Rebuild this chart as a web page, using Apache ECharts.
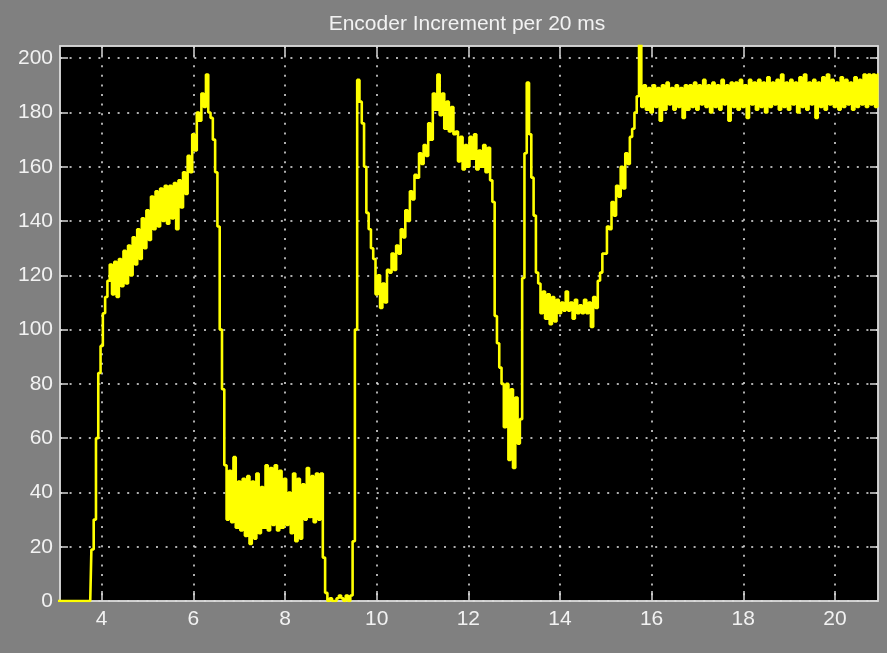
<!DOCTYPE html>
<html><head><meta charset="utf-8">
<script src="https://cdn.jsdelivr.net/npm/echarts@6/dist/echarts.min.js"></script>
<style>html,body{margin:0;padding:0;background:#808080}#c{width:887px;height:653px}</style>
</head><body><div id="c"></div>
<script>
const titleText = 'Encoder Increment per 20 ms';
const xTickValues = [4, 6, 8, 10, 12, 14, 16, 18, 20];
const yTickValues = [0, 20, 40, 60, 80, 100, 120, 140, 160, 180, 200];
const xRange = [3.09, 20.94];
const yRange = [0, 204.5];
// samples every 0.05 s starting at t = 3.00 s (rows of 10 = 0.5 s)
const timeStart = 3.00;
const samplePeriod = 0.05;
const encoderIncrement = [
  0, 0, 0, 0, 0, 0, 0, 0, 0, 0,
  0, 0, 0, 0, 0, 0, 19, 30, 60, 84,
  94, 106, 112, 118, 124, 113, 125, 112, 126, 116,
  129, 117, 131, 120, 134, 124, 137, 126, 141, 130,
  144, 133, 149, 137, 151, 138, 152, 140, 153, 139,
  153, 141, 154, 137, 155, 145, 158, 150, 164, 158,
  172, 166, 180, 177, 187, 182, 194, 180, 178, 170,
  158, 138, 100, 78, 50, 30, 48, 29, 53, 27,
  44, 26, 45, 24, 46, 21, 44, 23, 47, 25,
  42, 27, 50, 26, 49, 28, 50, 26, 48, 27,
  45, 28, 40, 25, 47, 22, 45, 23, 43, 30,
  49, 31, 46, 29, 47, 30, 47, 16, 3, 0,
  1, 0, 0, 1, 2, 1, 0, 2, 0, 2,
  22, 100, 192, 184, 176, 160, 143, 137, 130, 126,
  113, 120, 108, 117, 110, 122, 121, 128, 122, 131,
  128, 137, 134, 144, 140, 151, 148, 157, 156, 165,
  161, 168, 164, 176, 170, 187, 181, 194, 179, 187,
  174, 184, 173, 182, 172, 173, 162, 171, 159, 168,
  160, 171, 163, 172, 159, 166, 160, 168, 158, 167,
  155, 147, 105, 95, 86, 80, 64, 80, 52, 78,
  49, 75, 58, 67, 119, 165, 191, 172, 156, 142,
  121, 117, 106, 114, 104, 113, 102, 112, 103, 111,
  106, 110, 107, 114, 107, 110, 104, 111, 106, 109,
  106, 111, 106, 110, 101, 112, 108, 118, 121, 128,
  128, 138, 137, 147, 142, 153, 149, 160, 152, 165,
  161, 171, 174, 180, 186, 206, 182, 190, 181, 189,
  180, 190, 182, 189, 177, 190, 181, 191, 183, 189,
  181, 190, 182, 189, 178, 190, 181, 190, 182, 191,
  181, 190, 183, 192, 182, 190, 180, 191, 182, 190,
  181, 192, 183, 190, 177, 191, 182, 191, 181, 192,
  182, 190, 178, 192, 183, 191, 181, 192, 182, 191,
  180, 193, 182, 191, 183, 192, 181, 194, 182, 191,
  181, 192, 183, 191, 180, 193, 182, 194, 181, 191,
  183, 192, 178, 191, 182, 193, 181, 194, 183, 192,
  182, 191, 181, 193, 182, 192, 183, 191, 181, 193,
  182, 192, 183, 194, 182, 194, 183, 194, 182, 194
];

const seriesData = encoderIncrement.map((v, i) => [+(timeStart + i * samplePeriod).toFixed(2), v]);

const axisColor = '#d8d8d8';
const labelColor = '#f2f2f2';
const gridDots = { show: true, lineStyle: { color: '#e8e8e8', width: 1.5, type: [2, 7.6] } };
const fontFamily = '"Liberation Sans", Arial, sans-serif';

const chart = echarts.init(document.getElementById('c'), null, { renderer: 'canvas' });
chart.setOption({
  backgroundColor: '#808080',
  animation: false,
  title: {
    text: titleText, left: 462, top: 9, textAlign: 'center',
    textStyle: { color: '#f2f2f2', fontSize: 21, fontWeight: 'normal', fontFamily }
  },
  grid: {
    left: 60, right: 9, top: 46, bottom: 52, show: true,
    backgroundColor: '#000000', borderColor: axisColor, borderWidth: 1.5
  },
  xAxis: [{
    type: 'value', min: xRange[0], max: xRange[1], position: 'bottom',
    axisLine: { show: true, onZero: false, lineStyle: { color: axisColor, width: 1.5 } },
    axisTick: { show: true, inside: true, length: 10, customValues: xTickValues, lineStyle: { color: axisColor, width: 1.5 } },
    axisLabel: { customValues: xTickValues, color: labelColor, fontSize: 21, fontFamily, margin: 8 },
    splitLine: gridDots
  }, {
    type: 'value', min: xRange[0], max: xRange[1], position: 'top',
    axisLine: { show: true, onZero: false, lineStyle: { color: axisColor, width: 1.5 } },
    axisTick: { show: true, inside: true, length: 10, customValues: xTickValues, lineStyle: { color: axisColor, width: 1.5 } },
    axisLabel: { show: false }, splitLine: { show: false }
  }],
  yAxis: [{
    type: 'value', min: yRange[0], max: yRange[1], position: 'left',
    axisLine: { show: true, onZero: false, lineStyle: { color: axisColor, width: 1.5 } },
    axisTick: { show: true, inside: true, length: 8, customValues: yTickValues, lineStyle: { color: axisColor, width: 1.5 } },
    axisLabel: { customValues: yTickValues, color: labelColor, fontSize: 21, fontFamily, margin: 7 },
    splitLine: gridDots
  }, {
    type: 'value', min: yRange[0], max: yRange[1], position: 'right',
    axisLine: { show: true, onZero: false, lineStyle: { color: axisColor, width: 1.5 } },
    axisTick: { show: true, inside: true, length: 8, customValues: yTickValues, lineStyle: { color: axisColor, width: 1.5 } },
    axisLabel: { show: false }, splitLine: { show: false }
  }],
  series: [{
    type: 'line', xAxisIndex: 0, yAxisIndex: 0, data: seriesData,
    showSymbol: false, clip: true, sampling: null, step: 'middle',
    lineStyle: { color: '#ffff00', width: 2.6 }
  }]
});
</script>
</body></html>
